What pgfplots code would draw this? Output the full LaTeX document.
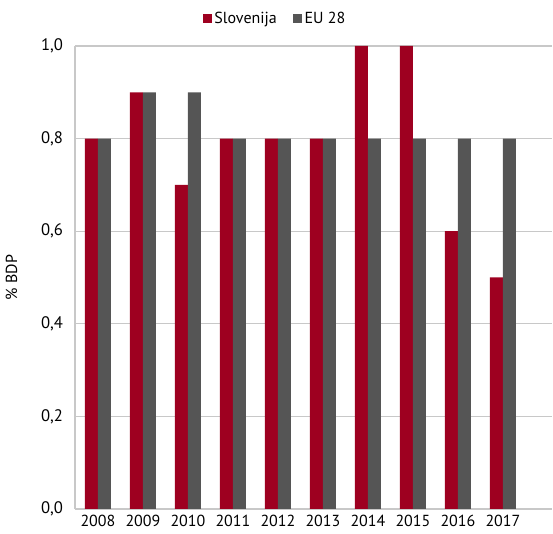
\documentclass[border=0pt]{standalone}
\usepackage{pgfplots}
\pgfplotsset{compat=1.18}
\usepackage{fontspec}
\setmainfont{PT Sans}
\definecolor{slo}{HTML}{9E0020}
\definecolor{eu}{HTML}{555555}
\definecolor{gridc}{HTML}{C8C8C8}
\begin{document}
\begin{tikzpicture}
\begin{axis}[
  name=ax,
  scale only axis,
  width=357.75pt, height=347.25pt,
  ybar, bar width=9.75pt,
  xmin=-0.51, xmax=10.09,
  ymin=0, ymax=1.0,
  xtick={0,...,9},
  xticklabels={2008,2009,2010,2011,2012,2013,2014,2015,2016,2017},
  ytick={0,0.2,0.4,0.6,0.8,1.0},
  y tick label style={/pgf/number format/use comma, /pgf/number format/fixed, /pgf/number format/fixed zerofill, /pgf/number format/precision=1, /pgf/number format/assume math mode=true, xshift=-5.5pt, font=\fontsize{12.5}{14}\selectfont},
  ymajorgrids, grid style={gridc, line width=0.9pt},
  axis x line*=bottom, axis y line*=left,
  axis line style={gridc, line width=1.2pt, -},
  major tick length=0pt,
  x tick label style={font=\fontsize{12}{14}\selectfont, text=black, yshift=-1pt},
  ylabel={\% BDP}, ylabel style={font=\fontsize{12}{14}\selectfont, yshift=11pt},
  legend style={at={(0.42,1)}, anchor=south, yshift=11.5pt, draw=none, font=\fontsize{12}{14}\selectfont, legend columns=2, /tikz/every even column/.append style={column sep=10pt}},
  legend image code/.code={\fill[#1] (0pt,-3.4pt) rectangle (6.75pt,3.4pt);},
]
\addplot[fill=slo, draw=none, bar shift=-4.875pt] coordinates {(0,0.8) (1,0.9) (2,0.7) (3,0.8) (4,0.8) (5,0.8) (6,1.0) (7,1.0) (8,0.6) (9,0.5)};
\addplot[fill=eu, draw=none, bar shift=4.875pt] coordinates {(0,0.8) (1,0.9) (2,0.9) (3,0.8) (4,0.8) (5,0.8) (6,0.8) (7,0.8) (8,0.8) (9,0.8)};
\legend{Slovenija, EU 28}
\end{axis}
\path ([shift={(-56.25pt,-18.75pt)}]ax.south west) rectangle ([shift={(0.75pt,34.5pt)}]ax.north east);
\end{tikzpicture}
\end{document}
